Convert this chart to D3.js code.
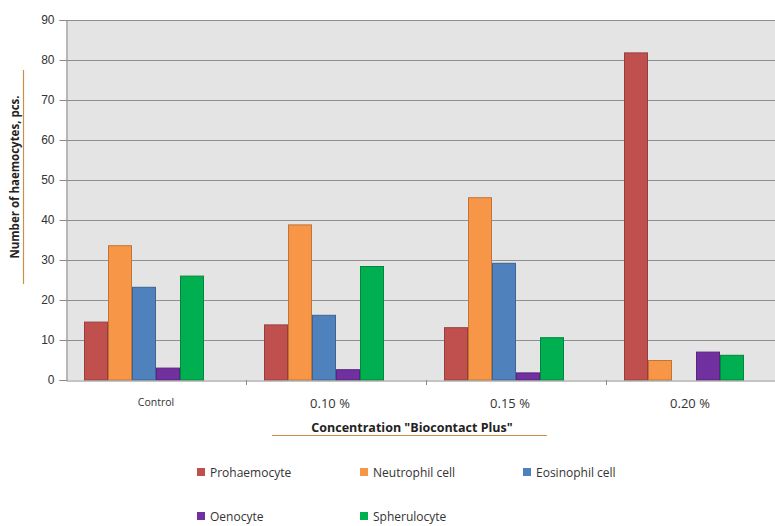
<!DOCTYPE html>
<html>
<head>
<meta charset="utf-8">
<script src="https://cdn.jsdelivr.net/npm/d3@7"></script>
<style>
  html, body { margin: 0; padding: 0; background: #ffffff; }
  svg { display: block; font-family: "Open Sans", "Liberation Sans", sans-serif; }
</style>
</head>
<body>
<svg id="chart" width="775" height="526"></svg>
<script>
// Haemocyte counts per concentration of "Biocontact Plus"
const categories = ["Control", "0.10 %", "0.15 %", "0.20 %"];
const seriesNames = ["Prohaemocyte", "Neutrophil cell", "Eosinophil cell", "Oenocyte", "Spherulocyte"];
const prohaemocyte = [14.6, 13.9, 13.2, 81.9];
const neutrophil   = [33.7, 38.9, 45.7, 5.0];
const eosinophil   = [23.3, 16.3, 29.3, 0];
const oenocyte     = [3.1, 2.7, 1.9, 7.1];
const spherulocyte = [26.1, 28.5, 10.7, 6.3];
const seriesValues = [prohaemocyte, neutrophil, eosinophil, oenocyte, spherulocyte];
const seriesColors = ["#c0504d", "#f79646", "#4f81bd", "#7030a0", "#00b050"];
const yTicks = [0, 10, 20, 30, 40, 50, 60, 70, 80, 90];

const svg = d3.select("#chart");
const plotLeft = 66, plotTop = 20, plotBottom = 380, bandW = 180;

const x0 = d3.scaleBand()
  .domain(categories)
  .range([plotLeft, plotLeft + bandW * categories.length])
  .paddingInner(0).paddingOuter(0);

// six slots per group, the last one left empty
const slot = x0.bandwidth() * 0.8 / 6;
const x1 = d3.scaleBand()
  .domain(seriesNames)
  .range([x0.bandwidth() * 0.1, x0.bandwidth() * 0.1 + slot * 5])
  .paddingInner(0).paddingOuter(0);

const y = d3.scaleLinear().domain([0, 90]).range([plotBottom, plotTop]);

// plot background
svg.append("rect")
  .attr("x", plotLeft).attr("y", plotTop)
  .attr("width", 775 - plotLeft).attr("height", plotBottom - plotTop)
  .attr("fill", "#e4e4e4");

// horizontal gridlines
svg.append("g")
  .selectAll("line")
  .data(yTicks.filter(d => d > 0))
  .join("line")
  .attr("x1", plotLeft).attr("x2", 775)
  .attr("y1", d => y(d) + 0.5).attr("y2", d => y(d) + 0.5)
  .attr("stroke", "#8e8e8e").attr("stroke-width", 1);

// bars
const groups = svg.append("g")
  .selectAll("g")
  .data(categories)
  .join("g")
  .attr("transform", d => `translate(${x0(d)},0)`);

groups.selectAll("rect")
  .data((c, i) => seriesNames.map((s, k) => ({ s, k, v: seriesValues[k][i] })).filter(d => d.v > 0))
  .join("rect")
  .attr("x", d => x1(d.s) + 0.5)
  .attr("y", d => y(d.v) + 0.5)
  .attr("width", x1.bandwidth() - 1)
  .attr("height", d => y(0) - y(d.v) - 0.5)
  .attr("fill", d => seriesColors[d.k])
  .attr("stroke", d => d3.color(seriesColors[d.k]).darker(0.7))
  .attr("stroke-width", 1);

// y axis
const yAxis = svg.append("g")
  .attr("transform", `translate(${plotLeft + 0.5},0)`)
  .call(d3.axisLeft(y).tickValues(yTicks).tickSize(7).tickPadding(5).tickFormat(d3.format("d")));
yAxis.select(".domain").attr("stroke", "#8a8a8a");
yAxis.selectAll(".tick line").attr("stroke", "#8a8a8a");
yAxis.selectAll("text").attr("font-size", 12).attr("fill", "#333");

// x axis
const xAxis = svg.append("g")
  .attr("transform", `translate(0,${plotBottom + 0.5})`)
  .call(d3.axisBottom(x0).tickSize(0).tickPadding(0));
xAxis.select(".domain").attr("stroke", "#8a8a8a");
xAxis.selectAll(".tick text").remove();
xAxis.selectAll(".tick line").remove();

// category boundary ticks
svg.append("g")
  .selectAll("line")
  .data(categories.slice(1))
  .join("line")
  .attr("x1", d => x0(d) + 0.5).attr("x2", d => x0(d) + 0.5)
  .attr("y1", plotBottom).attr("y2", plotBottom + 5)
  .attr("stroke", "#8a8a8a");

// category labels
svg.append("g")
  .selectAll("text")
  .data(categories)
  .join("text")
  .attr("x", d => x0(d) + x0.bandwidth() / 2 - (d === "Control" ? 0 : 6))
  .attr("y", d => d === "Control" ? 406 : 408)
  .attr("text-anchor", "middle")
  .attr("font-size", d => d === "Control" ? 10.5 : 13)
  .attr("fill", "#333")
  .text(d => d);

// axis titles
svg.append("text")
  .attr("x", 412).attr("y", 432)
  .attr("text-anchor", "middle")
  .attr("font-size", 12.5).attr("font-weight", "bold")
  .attr("fill", "#222")
  .text('Concentration "Biocontact Plus"');
svg.append("line")
  .attr("x1", 272).attr("x2", 547).attr("y1", 435.5).attr("y2", 435.5)
  .attr("stroke", "#c9904a").attr("stroke-width", 1.2);

svg.append("text")
  .attr("transform", "translate(19,177) rotate(-90)")
  .attr("text-anchor", "middle")
  .attr("font-size", 11.5).attr("font-weight", "bold")
  .attr("fill", "#222")
  .text("Number of haemocytes, pcs.");
svg.append("line")
  .attr("x1", 23.5).attr("x2", 23.5).attr("y1", 70).attr("y2", 284)
  .attr("stroke", "#c9904a").attr("stroke-width", 1.2);

// legend
const legendPos = [[197, 472], [360, 472], [523, 472], [197, 516], [360, 516]];
const legend = svg.append("g")
  .selectAll("g")
  .data(seriesNames)
  .join("g")
  .attr("transform", (d, i) => `translate(${legendPos[i][0]},${legendPos[i][1]})`);
legend.append("rect")
  .attr("x", 0).attr("y", -4).attr("width", 8).attr("height", 8)
  .attr("fill", (d, i) => seriesColors[i]);
legend.append("text")
  .attr("x", 13).attr("y", 4.5)
  .attr("font-size", 12).attr("fill", "#333")
  .text(d => d);
</script>
</body>
</html>
